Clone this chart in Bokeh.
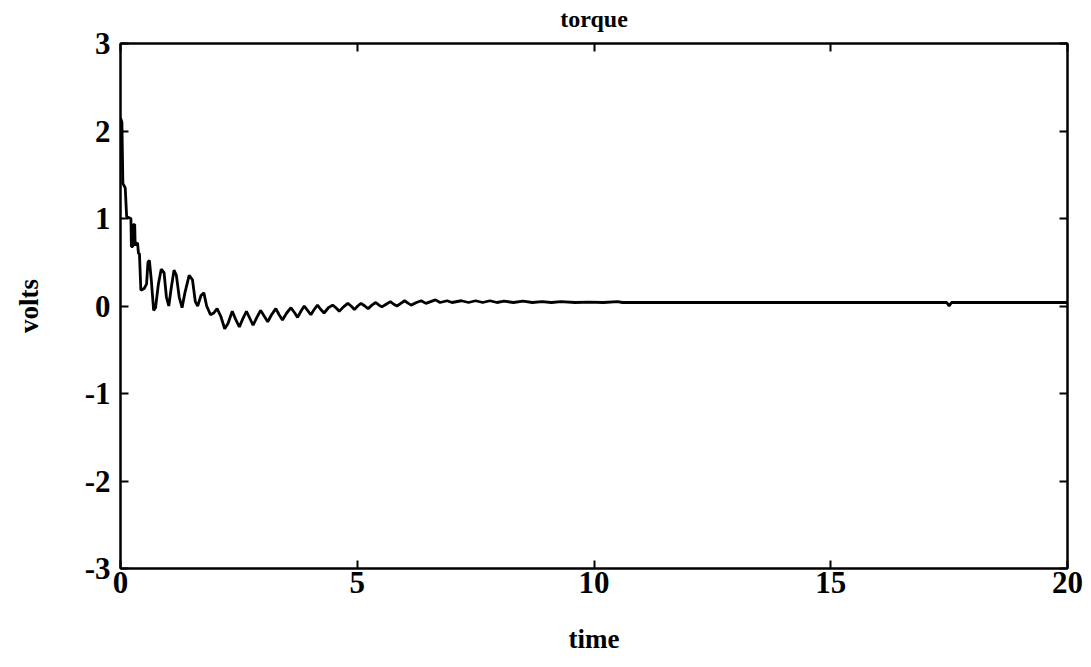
from bokeh.plotting import figure
from bokeh.models import Range1d, FixedTicker, LinearAxis
from bokeh.embed import file_html
from bokeh.resources import INLINE

# torque signal (time [s], volts)
time = [0.00, 0.03, 0.05, 0.10, 0.13, 0.22, 0.23, 0.26, 0.27, 0.30, 0.31, 0.36, 0.38, 0.40, 0.43,
        0.50, 0.55, 0.58, 0.61, 0.65, 0.70, 0.74, 0.80, 0.86, 0.92, 0.97, 1.02, 1.07, 1.13, 1.18,
        1.24, 1.30, 1.36, 1.45, 1.52, 1.58, 1.63, 1.70, 1.76, 1.82, 1.90, 1.97, 2.04, 2.12, 2.20,
        2.27, 2.36, 2.43, 2.51, 2.58, 2.66, 2.73, 2.80, 2.88, 2.96, 3.04, 3.11, 3.19, 3.28, 3.35,
        3.42, 3.51, 3.60, 3.68, 3.74, 3.81, 3.88, 3.95, 4.02, 4.09, 4.16, 4.23, 4.30, 4.39, 4.48,
        4.55, 4.62, 4.71, 4.80, 4.87, 4.94, 5.01, 5.08, 5.16, 5.23, 5.31, 5.39, 5.46, 5.52, 5.61,
        5.70, 5.77, 5.84, 5.92, 6.00, 6.08, 6.14, 6.25, 6.35, 6.45, 6.55, 6.65, 6.75, 6.90, 7.00,
        7.20, 7.35, 7.50, 7.65, 7.80, 7.95, 8.10, 8.30, 8.50, 8.70, 8.90, 9.10, 9.30, 9.60, 9.90,
        10.20, 10.50, 10.60, 17.45, 17.50, 17.55, 20.00]
volts = [2.15, 2.10, 1.40, 1.35, 1.02, 1.00, 0.68, 0.68, 0.93, 0.93, 0.70, 0.72, 0.60, 0.60, 0.18,
         0.20, 0.25, 0.50, 0.52, 0.30, -0.05, -0.02, 0.25, 0.42, 0.38, 0.10, 0.00, 0.20, 0.41, 0.35,
         0.10, -0.02, 0.15, 0.35, 0.30, 0.05, 0.00, 0.12, 0.15, 0.00, -0.10, -0.08, -0.03, -0.12, -0.26,
         -0.20, -0.06, -0.15, -0.24, -0.15, -0.06, -0.14, -0.22, -0.13, -0.05, -0.12, -0.18, -0.10, -0.03, -0.10,
         -0.16, -0.08, -0.02, -0.08, -0.13, -0.06, 0.00, -0.05, -0.10, -0.04, 0.01, -0.04, -0.08, -0.02, 0.01,
         -0.02, -0.06, -0.01, 0.03, 0.00, -0.04, 0.00, 0.03, 0.00, -0.03, 0.01, 0.04, 0.01, -0.01, 0.02,
         0.05, 0.02, 0.00, 0.03, 0.06, 0.03, 0.01, 0.04, 0.06, 0.03, 0.05, 0.07, 0.04, 0.06, 0.04,
         0.06, 0.04, 0.06, 0.04, 0.06, 0.04, 0.055, 0.04, 0.055, 0.04, 0.05, 0.04, 0.05, 0.04, 0.045,
         0.04, 0.05, 0.04, 0.04, 0.00, 0.04, 0.04]

x_ticks = [0, 5, 10, 15, 20]
y_ticks = [-3, -2, -1, 0, 1, 2, 3]
title_text = "torque"

FONT = "Liberation Serif"

p = figure(width=1083, height=659, output_backend="svg", toolbar_location=None,
           x_range=Range1d(0, 20), y_range=Range1d(-3, 3),
           min_border_left=120, min_border_right=16, min_border_top=43, min_border_bottom=91)

p.xgrid.visible = False
p.ygrid.visible = False
p.outline_line_color = "black"
p.outline_line_width = 2

p.line(time, volts, line_color="black", line_width=2.8)

# top and right axes (ticks only); the top axis carries the title
p.add_layout(LinearAxis(major_label_overrides={t: "" for t in x_ticks}), "above")
p.add_layout(LinearAxis(major_label_overrides={t: "" for t in y_ticks}), "right")

for ax in p.xaxis:
    ax.ticker = FixedTicker(ticks=x_ticks)
for ax in p.yaxis:
    ax.ticker = FixedTicker(ticks=y_ticks)

for ax in list(p.xaxis) + list(p.yaxis):
    ax.major_tick_in = 8
    ax.major_tick_out = 0
    ax.minor_tick_in = 0
    ax.minor_tick_out = 0
    ax.axis_line_width = 2
    ax.major_tick_line_width = 2
    ax.major_label_text_font = FONT
    ax.major_label_text_font_style = "bold"
    ax.major_label_text_font_size = "31px"
    ax.major_label_text_color = "black"
    ax.axis_label_text_font = FONT
    ax.axis_label_text_font_style = "bold"
    ax.axis_label_text_font_size = "27px"
    ax.axis_label_text_color = "black"

tx = p.above[0]
tx.major_label_standoff = 0
tx.axis_label = title_text
tx.axis_label_text_font_size = "24px"
tx.axis_label_standoff = 12
p.right[0].major_label_standoff = 0

bx = p.below[0]
bx.axis_label = "time"
bx.major_label_standoff = 3
bx.axis_label_standoff = 28

ly = p.left[0]
ly.axis_label = "volts"
ly.major_label_standoff = 10
ly.axis_label_standoff = 38
ly.major_label_overrides = {t: str(t) for t in y_ticks}

open("out.html", "w").write(file_html(p, INLINE))
